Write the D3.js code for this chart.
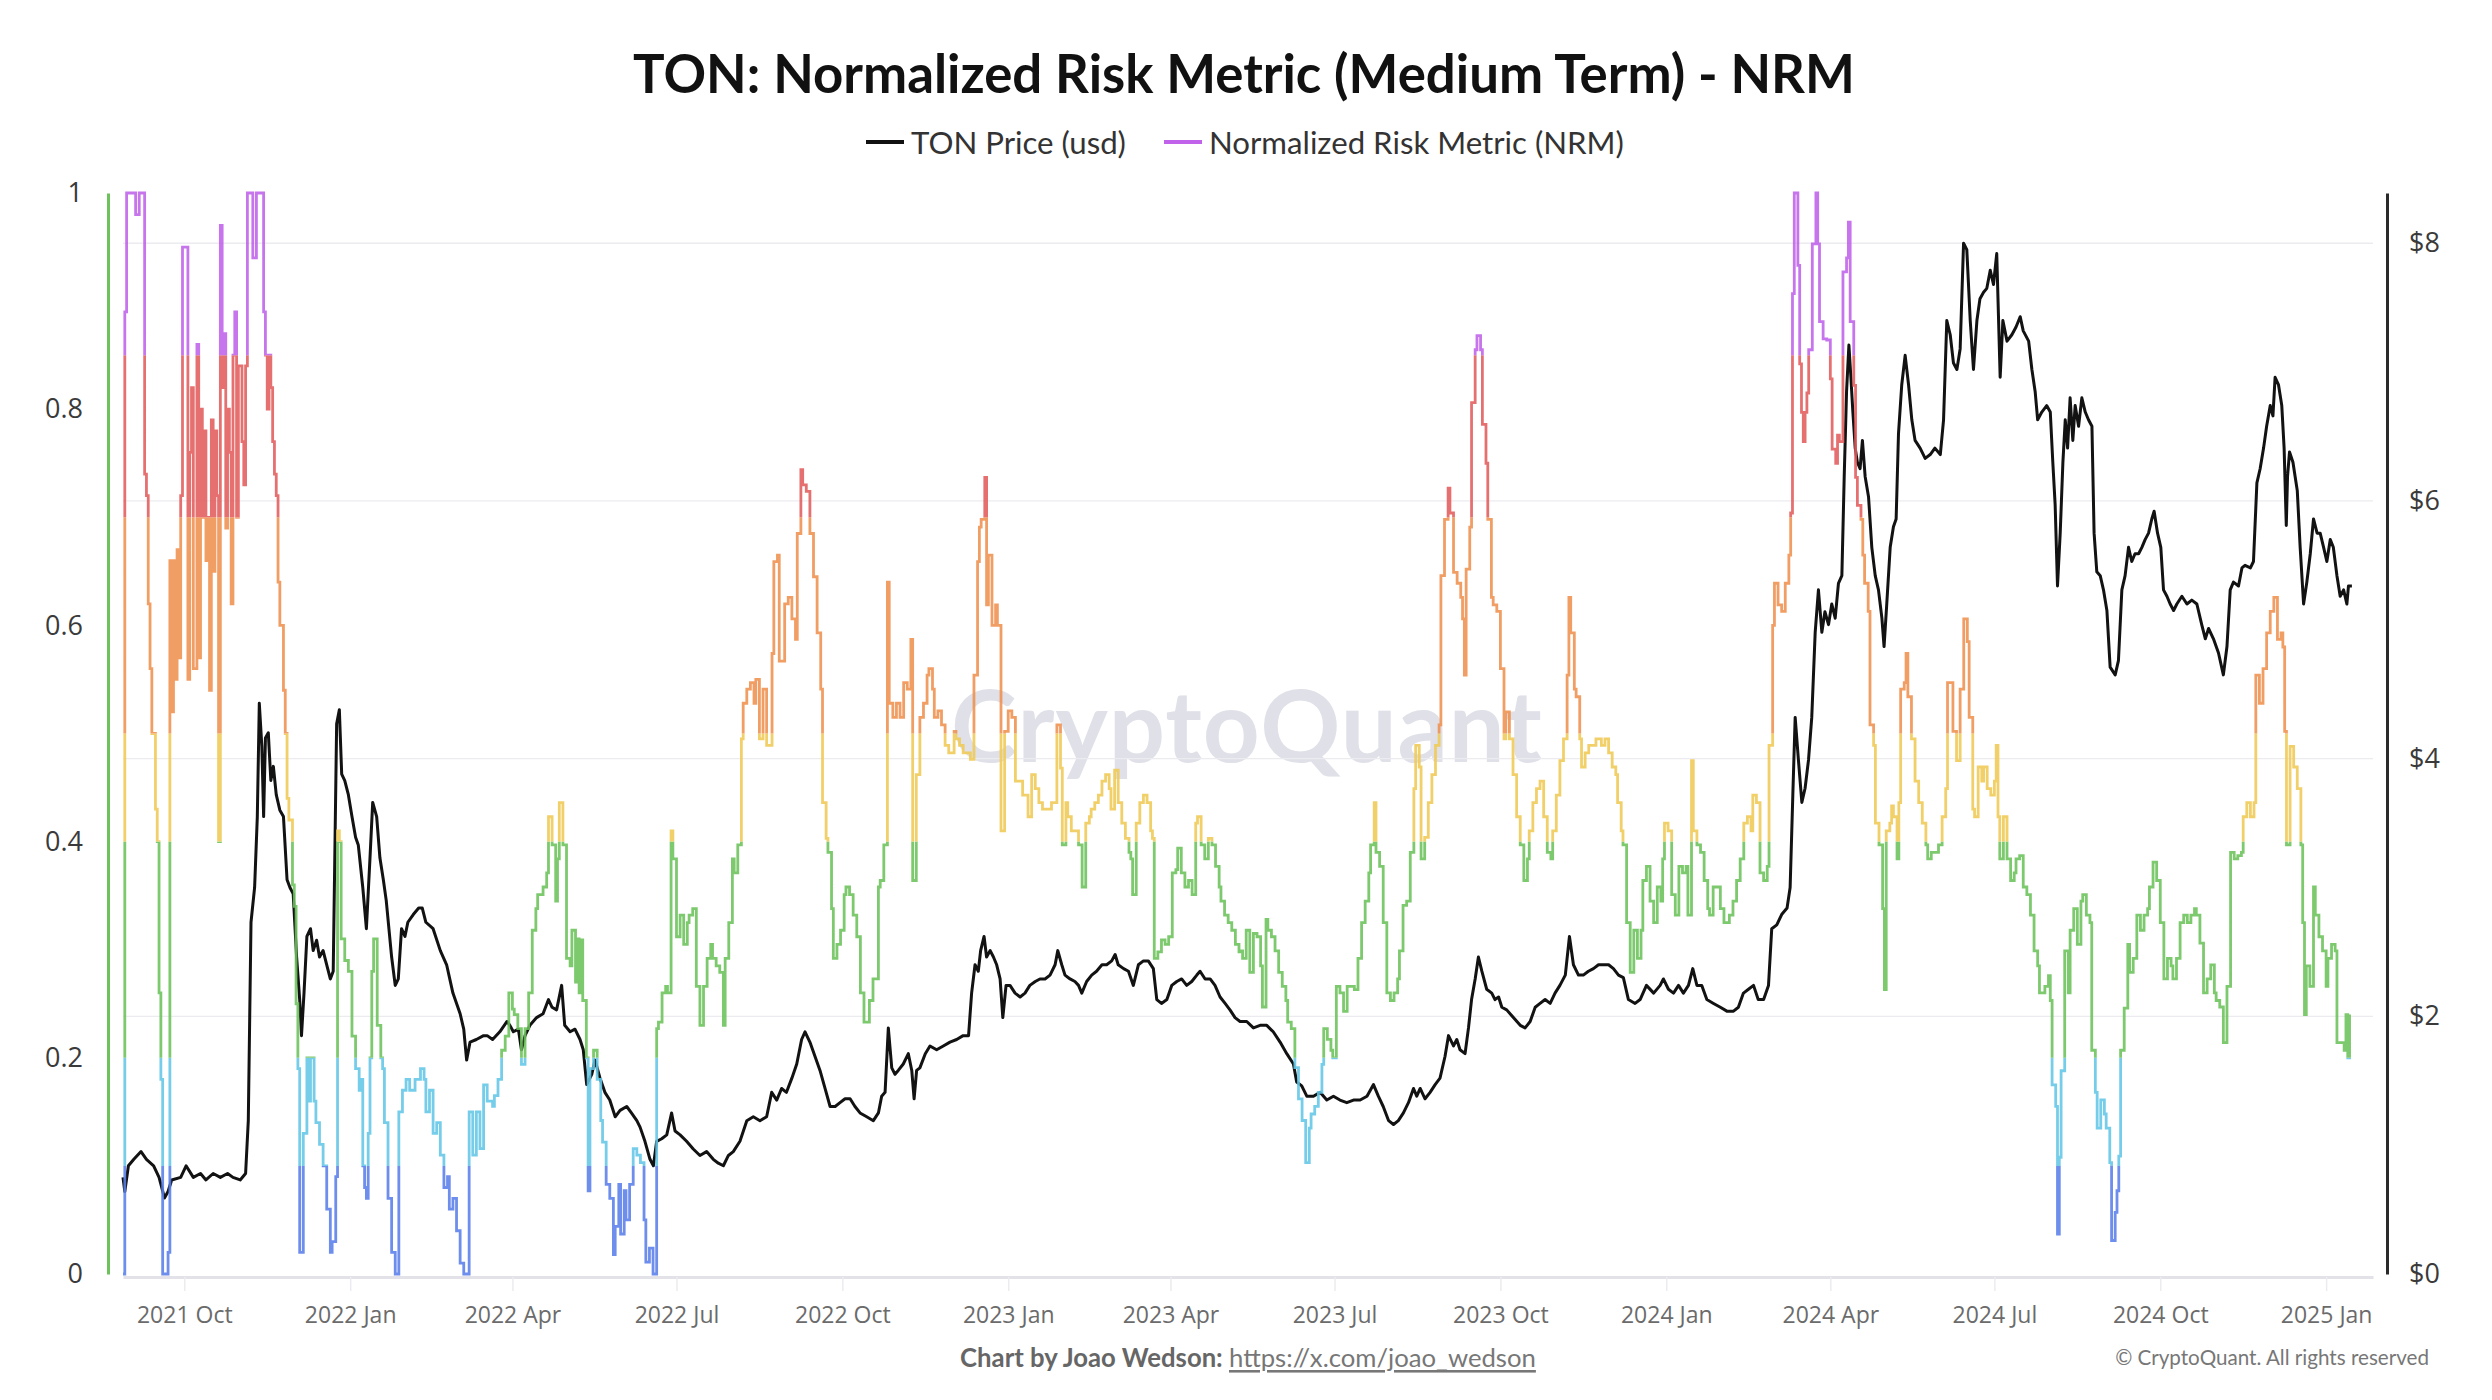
<!DOCTYPE html>
<html><head><meta charset="utf-8">
<script src="https://cdn.jsdelivr.net/npm/d3@7"></script>
<style>html,body{margin:0;padding:0;background:#fff;}svg{display:block;}</style>
</head><body>
<svg id="chart" width="2492" height="1400"></svg>
<script>
// ---------------- DATA ----------------
const baseDate = "2021-10-01";            // day 0 of the day offsets below
const chartTitle = "TON: Normalized Risk Metric (Medium Term) - NRM";
const seriesNames = ["TON Price (usd)", "Normalized Risk Metric (NRM)"];
const riskBands = [0, 0.1, 0.2, 0.4, 0.5, 0.7, 0.85, 1];
const riskColors = ["#5a7fea", "#64c7e7", "#6cc25b", "#f1ca55", "#f0914f", "#e35d5d", "#c062ea"];
const nrmTicks = [0, 0.2, 0.4, 0.6, 0.8, 1];
const priceTicks = [0, 2, 4, 6, 8];
const xDomainDays = [-34, 1214];
const priceMax = 8.39;

// NRM: [day offset from baseDate, value]
const nrmPoints = [
[-34,0.0],[-33,0.89],[-32,1.0],[-27,0.98],[-25,1.0],[-22,0.74],[-21,0.72],[-20,0.62],[-19,0.56],[-18,0.5],[-16,0.43],[-15,0.4],[-14,0.26],[-13,0.18],[-12,0.0],[-9,0.02],[-8,0.66],[-7,0.52],[-6,0.66],[-5,0.55],[-4,0.67],[-3,0.57],[-2,0.72],[-1,0.95],[2,0.55],[3,0.76],[4,0.82],[5,0.56],[7,0.86],[8,0.57],[9,0.8],[10,0.7],[11,0.78],[12,0.66],[13,0.7],[14,0.54],[15,0.79],[16,0.65],[17,0.78],[18,0.72],[19,0.4],[20,0.97],[21,0.82],[22,0.87],[23,0.69],[24,0.8],[25,0.76],[26,0.62],[27,0.85],[28,0.89],[29,0.7],[30,0.84],[32,0.77],[33,0.73],[34,0.84],[35,1.0],[38,0.94],[40,1.0],[44,0.89],[45,0.85],[46,0.8],[47,0.85],[48,0.82],[49,0.77],[50,0.74],[51,0.72],[52,0.64],[53,0.6],[55,0.54],[56,0.5],[57,0.44],[58,0.42],[60,0.36],[61,0.34],[62,0.25],[63,0.19],[64,0.02],[66,0.13],[68,0.2],[69,0.16],[70,0.2],[72,0.16],[73,0.14],[75,0.12],[77,0.1],[79,0.06],[81,0.02],[82,0.03],[84,0.09],[85,0.41],[86,0.4],[87,0.31],[89,0.29],[91,0.28],[93,0.22],[95,0.19],[97,0.17],[98,0.18],[99,0.1],[100,0.08],[101,0.07],[102,0.13],[103,0.2],[104,0.28],[105,0.31],[107,0.23],[109,0.2],[110,0.19],[111,0.14],[113,0.07],[115,0.02],[117,0.0],[119,0.15],[121,0.17],[123,0.18],[125,0.17],[128,0.18],[131,0.19],[133,0.18],[134,0.15],[136,0.17],[138,0.13],[140,0.14],[142,0.11],[144,0.08],[146,0.09],[147,0.06],[149,0.07],[151,0.04],[153,0.01],[155,0.0],[158,0.15],[160,0.11],[162,0.15],
[164,0.116],[166,0.175],[168,0.16],[171,0.155],[172,0.165],[174,0.18],[176,0.207],[178,0.22],[180,0.26],[182,0.245],[183,0.24],[185,0.227],[187,0.194],[189,0.227],[191,0.26],[193,0.318],[195,0.338],[196,0.351],[199,0.358],[201,0.371],[202,0.423],[204,0.397],[206,0.345],[207,0.384],[208,0.436],[210,0.397],[212,0.292],[214,0.285],[215,0.318],[217,0.27],[218,0.31],[219,0.26],[220,0.309],[221,0.253],[223,0.2],[224,0.077],[225,0.19],[227,0.207],[229,0.18],[231,0.142],[232,0.122],[234,0.083],[236,0.07],[238,0.018],[239,0.044],[241,0.083],[242,0.037],[244,0.077],[245,0.05],[247,0.083],[249,0.116],[251,0.11],[253,0.103],[255,0.05],[256,0.011],[258,0.024],[260,0.0],[262,0.227],[263,0.233],[265,0.26],[267,0.266],[268,0.26],[270,0.41],[271,0.384],[273,0.312],[275,0.332],[277,0.305],[279,0.325],[280,0.332],[282,0.338],[284,0.266],[286,0.23],[288,0.266],[290,0.292],[292,0.305],[293,0.292],[295,0.285],[297,0.279],[299,0.23],[300,0.292],[302,0.325],[304,0.384],[305,0.371],[307,0.397],[309,0.495],[310,0.528],[312,0.541],[314,0.547],[316,0.528],[317,0.55],[319,0.495],[321,0.541],[323,0.489],[325,0.489],[326,0.574],[327,0.659],[329,0.665],[330,0.567],[332,0.567],[333,0.62],[335,0.626],[337,0.606],[339,0.587],[340,0.685],[342,0.744],[343,0.73],[345,0.724],[347,0.685],[349,0.645],[351,0.593],[353,0.541],[354,0.436],[356,0.403],[357,0.39],[359,0.338],[360,0.292],[362,0.305],[364,0.318],[366,0.351],[367,0.358],[369,0.351],[371,0.332],[373,0.312],[375,0.26],[377,0.233],
[378,0.233],[380,0.253],[382,0.273],[384,0.273],[385,0.358],[386,0.364],[388,0.397],[390,0.64],[391,0.528],[393,0.515],[395,0.528],[397,0.515],[399,0.547],[401,0.541],[403,0.587],[404,0.364],[406,0.462],[408,0.515],[410,0.528],[412,0.554],[413,0.56],[415,0.541],[416,0.515],[418,0.521],[420,0.508],[422,0.489],[424,0.482],[427,0.502],[428,0.495],[430,0.489],[432,0.482],[434,0.482],[436,0.476],[438,0.554],[440,0.659],[441,0.691],[442,0.698],[444,0.737],[445,0.619],[446,0.665],[448,0.6],[450,0.619],[451,0.6],[453,0.41],[454,0.41],[455,0.502],[457,0.521],[459,0.515],[461,0.456],[463,0.456],[465,0.443],[466,0.443],[468,0.423],[470,0.462],[472,0.449],[474,0.436],[476,0.43],[479,0.43],[481,0.436],[483,0.436],[484,0.508],[486,0.468],[487,0.397],[489,0.436],[490,0.423],[492,0.41],[494,0.41],[496,0.397],[498,0.358],[500,0.417],[502,0.423],[503,0.43],[505,0.436],[507,0.443],[509,0.456],[511,0.462],[513,0.449],[514,0.43],[516,0.466],[518,0.436],[520,0.417],[522,0.403],[524,0.39],[525,0.384],[526,0.351],[528,0.417],[530,0.436],[532,0.443],[534,0.436],[536,0.41],[537,0.403],[538,0.292],[540,0.298],[542,0.309],[544,0.305],[546,0.312],[548,0.371],[550,0.374],[551,0.394],[553,0.371],[555,0.358],[557,0.364],[559,0.351],[561,0.417],[562,0.423],[564,0.397],[566,0.384],[568,0.403],[570,0.397],[572,0.377],[574,0.358],[575,0.345],[577,0.332],[579,0.325],[581,0.318],[583,0.305],[585,0.298],
[586,0.299],[587,0.292],[589,0.318],[591,0.279],[593,0.315],[595,0.312],[597,0.285],[598,0.247],[600,0.328],[601,0.318],[603,0.312],[605,0.299],[607,0.279],[609,0.266],[611,0.253],[612,0.233],[614,0.227],[616,0.191],[618,0.162],[620,0.142],[622,0.103],[624,0.135],[625,0.148],[627,0.155],[629,0.168],[631,0.194],[632,0.227],[634,0.217],[636,0.207],[637,0.2],[639,0.266],[641,0.26],[643,0.243],[645,0.266],[647,0.266],[649,0.263],[651,0.292],[653,0.325],[655,0.345],[657,0.371],[658,0.397],[660,0.436],[661,0.39],[663,0.377],[665,0.325],[667,0.26],[669,0.253],[671,0.26],[673,0.273],[674,0.299],[676,0.341],[678,0.345],[680,0.39],[682,0.449],[683,0.489],[685,0.469],[686,0.384],[688,0.404],[690,0.436],[692,0.462],[694,0.489],[696,0.508],[697,0.646],[699,0.698],[701,0.727],[702,0.704],[704,0.649],[706,0.639],[708,0.626],[709,0.606],[710,0.554],[711,0.652],[713,0.691],[714,0.806],[716,0.855],[717,0.868],[719,0.855],[720,0.786],[722,0.75],[723,0.698],[725,0.626],[726,0.619],[728,0.613],[730,0.56],[732,0.495],[733,0.52],[735,0.495],[737,0.462],[739,0.423],[741,0.397],[743,0.364],[745,0.384],[746,0.41],[748,0.436],[750,0.449],[752,0.456],[754,0.423],[756,0.39],[758,0.384],[759,0.41],[761,0.443],[763,0.475],[765,0.495],[767,0.554],[768,0.626],[769,0.593],[771,0.541],[772,0.534],[774,0.495],[775,0.469],[777,0.482],[779,0.489],[781,0.489],[783,0.495],[786,0.489],[788,0.495],[790,0.482],[792,0.469],[794,0.462],[795,0.436],[797,0.41],
[798,0.397],[800,0.325],[802,0.279],[804,0.318],[806,0.292],[808,0.318],[809,0.364],[811,0.377],[813,0.345],[815,0.325],[817,0.358],[819,0.345],[820,0.384],[821,0.417],[823,0.41],[825,0.351],[827,0.332],[829,0.377],[831,0.371],[833,0.377],[834,0.332],[836,0.475],[837,0.41],[839,0.397],[841,0.39],[843,0.364],[845,0.338],[846,0.332],[848,0.358],[850,0.358],[852,0.338],[854,0.325],[856,0.325],[857,0.332],[859,0.345],[861,0.364],[863,0.384],[865,0.417],[867,0.423],[869,0.41],[870,0.443],[872,0.436],[874,0.371],[876,0.364],[878,0.377],[879,0.489],[881,0.6],[882,0.639],[884,0.619],[886,0.613],[888,0.639],[890,0.665],[891,0.704],[892,0.907],[893,1.0],[895,0.933],[896,0.842],[897,0.797],[898,0.77],[899,0.797],[900,0.815],[901,0.855],[903,0.953],[905,1.0],[906,0.953],[907,0.881],[909,0.865],[911,0.864],[913,0.828],[914,0.763],[916,0.75],[917,0.776],[918,0.77],[920,0.927],[922,0.94],[923,0.973],[924,0.881],[926,0.822],[927,0.737],[928,0.711],[930,0.698],[931,0.665],[932,0.639],[934,0.613],[935,0.508],[937,0.489],[938,0.417],[940,0.397],[942,0.338],[943,0.263],[944,0.41],[946,0.417],[947,0.433],[948,0.423],[950,0.384],[951,0.436],[952,0.541],[954,0.547],[955,0.574],[956,0.534],[958,0.495],[960,0.456],[962,0.436],[964,0.417],[966,0.397],[967,0.384],[969,0.39],[971,0.39],[973,0.397],[975,0.423],[977,0.449],[978,0.547],[980,0.547],[981,0.502],[983,0.475],[985,0.541],[987,0.606],[989,0.585],[990,0.515],[992,0.43],[993,0.423],[995,0.469],[997,0.456],[998,0.469],[1000,0.449],[1002,0.443],[1004,0.456],[1005,0.489],[1006,0.423],
[1007,0.384],[1009,0.423],[1011,0.384],[1013,0.364],[1015,0.371],[1016,0.384],[1018,0.387],[1020,0.358],[1022,0.351],[1024,0.332],[1026,0.299],[1028,0.285],[1029,0.26],[1032,0.266],[1034,0.276],[1035,0.253],[1036,0.175],[1038,0.155],[1039,0.037],[1040,0.108],[1041,0.188],[1043,0.299],[1045,0.26],[1046,0.318],[1048,0.338],[1050,0.305],[1052,0.345],[1053,0.351],[1055,0.332],[1057,0.325],[1058,0.207],[1060,0.168],[1061,0.135],[1063,0.161],[1065,0.148],[1066,0.135],[1068,0.103],[1069,0.031],[1071,0.057],[1072,0.077],[1073,0.109],[1074,0.207],[1076,0.246],[1078,0.305],[1079,0.279],[1081,0.292],[1083,0.332],[1085,0.318],[1087,0.332],[1089,0.338],[1090,0.358],[1092,0.381],[1094,0.364],[1096,0.325],[1098,0.273],[1100,0.292],[1102,0.285],[1103,0.273],[1105,0.292],[1107,0.325],[1109,0.332],[1111,0.325],[1113,0.332],[1115,0.338],[1116,0.332],[1118,0.306],[1120,0.26],[1122,0.273],[1124,0.286],[1126,0.26],[1127,0.253],[1129,0.247],[1131,0.214],[1133,0.266],[1135,0.39],[1137,0.384],[1139,0.387],[1141,0.39],[1142,0.423],[1144,0.436],[1146,0.423],[1148,0.436],[1149,0.554],[1151,0.528],[1153,0.56],[1155,0.593],[1157,0.613],[1159,0.626],[1161,0.587],[1163,0.593],[1164,0.58],[1165,0.502],[1166,0.397],[1168,0.488],[1170,0.469],[1172,0.449],[1174,0.397],[1175,0.325],[1176,0.24],[1177,0.285],[1179,0.266],[1181,0.358],[1182,0.332],[1184,0.312],[1186,0.299],[1188,0.266],[1189,0.292],[1191,0.305],[1193,0.299],[1194,0.214],[1196,0.214],[1198,0.207],[1199,0.24],[1200,0.2],[1201,0.24]
];

// TON price (USD): [day offset from baseDate, price]
const pricePoints = [
[-34,0.75],[-33,0.64],[-31,0.84],[-28,0.89],[-24,0.95],[-21,0.89],[-17,0.84],[-14,0.75],[-11,0.59],[-9,0.64],[-7,0.73],[-2,0.75],[1,0.84],[5,0.75],[9,0.78],[12,0.73],[16,0.78],[20,0.75],[24,0.78],[27,0.75],[31,0.73],[34,0.78],[35.5,1.19],[37,2.73],[39,3.0],[40.5,3.55],[41.6,4.43],[43,4.1],[44,3.55],[45,4.16],[46.6,4.2],[48,3.83],[49.4,3.94],[51,3.72],[53,3.6],[55,3.55],[57,3.06],[58.6,3.0],[60.4,2.95],[62.3,2.46],[64,2.13],[65,1.85],[66.4,2.18],[68,2.62],[70,2.68],[71.5,2.51],[73.4,2.59],[75,2.46],[77,2.51],[79,2.4],[81,2.29],[82.6,2.35],[84.5,4.27],[86,4.38],[87.3,3.88],[89,3.83],[91,3.72],[93,3.55],[95,3.39],[96.5,3.33],[99,3.0],[101,2.68],[103,3.23],[104.5,3.66],[106.7,3.55],[108.5,3.23],[110.4,3.06],[112,2.9],[115,2.46],[117,2.24],[118.7,2.29],[120.5,2.68],[122.4,2.62],[124,2.73],[127,2.79],[130,2.84],[132,2.84],[134,2.73],[138,2.68],[142,2.51],[145.5,2.4],[149,2.18],[153,2.02],[155,1.9],[156.6,1.66],[158.5,1.8],[162,1.82],[166,1.85],[168,1.85],[171,1.82],[175,1.88],[179,1.96],[180.6,1.93],[182.5,1.88],[185.3,1.9],[187,1.74],[189,1.85],[191.7,1.93],[195.4,1.99],[199,2.02],[202,2.13],[204,2.07],[206.5,2.05],[209.3,2.24],[211,1.93],[214,1.88],[216.7,1.9],[219.5,1.82],[221.3,1.74],[223.2,1.47],[226,1.55],[227.8,1.66],[230.6,1.52],[233.3,1.41],[236,1.35],[239,1.22],[241.7,1.27],[245.4,1.3],[248,1.25],[251,1.19],[252.8,1.14],[255.5,1.03],[258.3,0.89],[260.2,0.84],[262,1.03],[264.8,1.05],[267.6,1.08],[270.3,1.25],[272.2,1.11],[275,1.08],[278.6,1.03],[282.3,0.97],[286,0.92],[289.7,0.95],[293.4,0.89],[296.2,0.86],[299,0.84],[301.8,0.92],[304.5,0.95],[308.2,1.03],[312,1.19],[315.6,1.22],[319.3,1.19],[323,1.22],[325.8,1.41],[328.6,1.35],[331.3,1.44],[334,1.41],[337,1.52],[339.7,1.63],[342.4,1.82],[344.3,1.88],[347,1.8],[349.8,1.69],[352.6,1.58],[355.4,1.44],[358.2,1.3],[361,1.3],[363.7,1.33],[366.5,1.36],[369.3,1.36],[372,1.3],[374.8,1.25],[378.5,1.22],[382.2,1.19],[385,1.25],[386.8,1.38],[388.7,1.41],[390.5,1.91],[392.4,1.6],[394.2,1.55],[396,1.58],[398.8,1.63],[401.6,1.71],[403.5,1.58],[404.8,1.36],[406.2,1.58],[408,1.6],[411,1.71],[413.6,1.77],[417.3,1.74],[421,1.77],[424.7,1.8],[428.4,1.82],[432,1.85],[435,1.85],[436.7,2.18],[438.6,2.4],[440.4,2.35],[441.7,2.51],[443.6,2.62],[445,2.46],[447,2.51],[448.8,2.46],[450.6,2.4],[452.5,2.29],[454,1.99],[455.8,2.24],[458,2.24],[460.8,2.18],[463.6,2.15],[466.3,2.18],[469,2.24],[472,2.27],[474.6,2.29],[477.4,2.29],[480.2,2.32],[483,2.4],[484.5,2.51],[486.7,2.4],[488.5,2.32],[491.3,2.29],[494,2.27],[496,2.24],[497.8,2.18],[500.5,2.27],[503.3,2.32],[506,2.35],[509,2.4],[511.6,2.4],[514.4,2.43],[516.3,2.48],[518,2.4],[521,2.37],[523.7,2.35],[526.4,2.24],[529.2,2.4],[532,2.43],[534.7,2.43],[537.5,2.37],[539.4,2.13],[542,2.1],[545,2.13],[547.7,2.24],[550.5,2.27],[553.2,2.29],[556,2.24],[558.8,2.27],[561.6,2.32],[563.4,2.35],[566.2,2.29],[569,2.29],[571.7,2.24],[574.5,2.15],[577.3,2.1],[580,2.05],[582.8,1.99],[585.6,1.96],[589.3,1.96],[593,1.91],[596.7,1.93],[600.4,1.93],[604,1.88],[607.8,1.8],[611.5,1.71],[615.2,1.63],[617,1.49],[619.8,1.46],[622.6,1.38],[626.3,1.38],[630,1.41],[633.7,1.35],[637.4,1.38],[641,1.35],[644.8,1.33],[648.5,1.35],[652.2,1.35],[656,1.38],[659.6,1.47],[662.3,1.38],[665,1.3],[668,1.19],[670.7,1.16],[673.4,1.19],[676.2,1.25],[679,1.33],[681.8,1.44],[683.6,1.38],[685.5,1.44],[688.2,1.36],[691,1.41],[693.8,1.47],[696.5,1.52],[699.3,1.69],[701.2,1.85],[704,1.77],[705.8,1.82],[707.6,1.74],[710.4,1.71],[712.3,1.91],[714,2.13],[716,2.29],[717.8,2.46],[719.7,2.35],[722.4,2.21],[725.2,2.18],[727,2.13],[729,2.15],[730.8,2.07],[733.5,2.05],[737.2,1.99],[741,1.93],[743.7,1.91],[746.5,1.96],[749.3,2.07],[752,2.1],[754.8,2.13],[757.6,2.1],[760.3,2.18],[763,2.24],[766,2.32],[768.3,2.62],[770.5,2.4],[773.3,2.32],[776,2.32],[778.8,2.35],[781.6,2.37],[784.4,2.4],[787,2.4],[790,2.4],[792.7,2.37],[795.5,2.32],[798.2,2.3],[801,2.13],[804.7,2.1],[807.5,2.13],[811,2.24],[815,2.18],[818.6,2.24],[820.4,2.29],[823.2,2.21],[826,2.18],[828.8,2.24],[831.5,2.18],[834.3,2.24],[836.7,2.37],[839,2.24],[841.7,2.24],[844.5,2.13],[848.2,2.1],[852,2.07],[855.6,2.04],[859.3,2.04],[862,2.07],[864.8,2.18],[867.6,2.21],[870.4,2.24],[873,2.13],[876,2.13],[878.7,2.24],[880.5,2.68],[883.3,2.71],[886,2.79],[889,2.84],[890.7,3.0],[892.2,3.72],[893.5,4.32],[895.3,3.99],[897.2,3.66],[899,3.77],[900.9,3.99],[902.7,4.32],[904.6,4.98],[906.4,5.31],[908.3,4.98],[910,5.14],[912,5.04],[913.8,5.2],[915.7,5.09],[917.5,5.36],[919.4,5.42],[920.7,6.19],[922,6.85],[923.3,7.21],[924.4,6.96],[925.5,6.69],[926.8,6.41],[928,6.3],[929.5,6.25],[930.8,6.47],[932.3,6.19],[934.2,6.03],[936,5.64],[937.9,5.42],[939.7,5.31],[941.6,5.09],[942.8,4.87],[944.3,5.2],[946.2,5.64],[948,5.8],[949.5,5.86],[950.8,6.52],[952.6,6.9],[954.5,7.13],[956.4,6.9],[958.2,6.63],[960,6.47],[962.8,6.41],[965.6,6.33],[968.4,6.36],[971,6.41],[974,6.36],[975.8,6.63],[977.6,7.4],[979.5,7.29],[981.3,7.07],[983.2,7.02],[985,7.18],[986.9,8.0],[988.7,7.95],[990.6,7.4],[992.4,7.02],[994.3,7.4],[996,7.57],[998,7.62],[999.8,7.65],[1001.7,7.79],[1003.5,7.68],[1005.3,7.92],[1007.2,6.96],[1008.7,7.4],[1011,7.24],[1013.7,7.29],[1016,7.35],[1018.3,7.43],[1020,7.32],[1023,7.24],[1024.8,7.02],[1026.6,6.85],[1028,6.63],[1030.3,6.69],[1033,6.74],[1035,6.69],[1036.4,6.3],[1037.7,5.97],[1039,5.34],[1040.5,5.75],[1042,6.3],[1043.3,6.63],[1044.6,6.41],[1046,6.8],[1047.5,6.47],[1048.8,6.74],[1050.7,6.58],[1052.5,6.8],[1054.4,6.69],[1056.2,6.63],[1058.1,6.58],[1059.3,5.75],[1060.8,5.45],[1062.7,5.42],[1064.5,5.31],[1066.4,5.15],[1068.2,4.71],[1071,4.65],[1072.8,4.76],[1074.7,5.31],[1076.5,5.42],[1078.4,5.64],[1080.2,5.53],[1082,5.59],[1084,5.59],[1085.8,5.64],[1087.6,5.7],[1089.5,5.75],[1091.3,5.86],[1092.6,5.92],[1094.5,5.75],[1096.3,5.64],[1097.8,5.31],[1099.7,5.26],[1101.5,5.2],[1103.4,5.15],[1105.2,5.2],[1108,5.26],[1110.8,5.2],[1113.5,5.23],[1116.3,5.2],[1119,5.04],[1121,4.93],[1122.8,5.01],[1125.5,4.93],[1128.3,4.82],[1131,4.65],[1133,4.87],[1134.8,5.31],[1136.6,5.37],[1139.4,5.34],[1141.3,5.48],[1143,5.5],[1146,5.48],[1147.7,5.53],[1149.6,6.14],[1151.4,6.25],[1153.3,6.41],[1155,6.58],[1157,6.74],[1158.5,6.66],[1159.7,6.96],[1161.6,6.9],[1163.4,6.74],[1164.7,6.41],[1165.9,5.81],[1166.6,6.19],[1167.7,6.38],[1169.6,6.3],[1170.8,6.19],[1172,6.08],[1173.6,5.64],[1175.5,5.2],[1177.3,5.37],[1179.2,5.59],[1181,5.86],[1183,5.75],[1184.7,5.75],[1186.6,5.64],[1188.4,5.53],[1190.3,5.7],[1192,5.64],[1194,5.42],[1195.8,5.26],[1197.7,5.31],[1199.5,5.2],[1200.4,5.34],[1202.3,5.34]
];

// ---------------- LAYOUT ----------------
const W = 2492, H = 1400;
const plot = {left: 123, right: 2373, top: 193, bottom: 1274};
const base = Date.parse(baseDate + "T00:00:00Z");
const toDate = d => new Date(base + d * 864e5);

const svg = d3.select("#chart");
const x = d3.scaleUtc().domain(xDomainDays.map(toDate)).range([plot.left, plot.right]);
const yL = d3.scaleLinear().domain([0, 1]).range([plot.bottom, plot.top]);
const yR = d3.scaleLinear().domain([0, priceMax]).range([plot.bottom, plot.top]);

function fit(sel, w) {
  const len = sel.node().getComputedTextLength();
  const fs = parseFloat(sel.attr("font-size"));
  sel.attr("font-size", (fs * w / len).toFixed(2));
}

// watermark
const wm = svg.append("text").attr("x", 1247).attr("y", 762)
  .attr("text-anchor", "middle")
  .attr("font-family", "Lato, 'Open Sans', sans-serif").attr("font-weight", 700)
  .attr("font-size", 100).attr("fill", "#dfe0e8")
  .attr("letter-spacing", 1)
  .text("CryptoQuant");
fit(wm, 592);

// gridlines (from right axis)
svg.append("g").selectAll("line").data(priceTicks.filter(t => t > 0)).join("line")
  .attr("x1", plot.left).attr("x2", plot.right)
  .attr("y1", d => yR(d)).attr("y2", d => yR(d))
  .attr("stroke", "#ececf0").attr("stroke-width", 1.3);

// x axis
const xAxis = d3.axisBottom(x).ticks(d3.utcMonth.every(3)).tickFormat(d3.utcFormat("%Y %b")).tickSize(14).tickSizeOuter(0);
const gx = svg.append("g").attr("transform", `translate(0,${plot.bottom + 3})`).call(xAxis);
gx.select(".domain").attr("stroke", "#e2e2e8").attr("stroke-width", 3);
gx.selectAll(".tick line").attr("stroke", "#ececf0").attr("stroke-width", 1.5);
gx.selectAll(".tick text").attr("font-family", "'Open Sans', sans-serif").attr("font-size", 23)
  .attr("fill", "#6b6b6b").attr("dy", "1.25em");

// left axis
const gl = svg.append("g").attr("transform", `translate(${plot.left - 15},0)`)
  .call(d3.axisLeft(yL).tickValues(nrmTicks).tickFormat(d3.format("~g")).tickSize(0).tickPadding(25));
gl.select(".domain").attr("stroke", riskColors[2]).attr("stroke-width", 3);
gl.selectAll(".tick text").attr("font-family", "'Open Sans', sans-serif").attr("font-size", 27).attr("fill", "#3a3a3a");

// right axis
const gr = svg.append("g").attr("transform", `translate(${plot.right + 14},0)`)
  .call(d3.axisRight(yR).tickValues(priceTicks).tickFormat(d => "$" + d).tickSize(0).tickPadding(22));
gr.select(".domain").attr("stroke", "#2a2a2a").attr("stroke-width", 3);
gr.selectAll(".tick text").attr("font-family", "'Open Sans', sans-serif").attr("font-size", 27).attr("fill", "#3a3a3a");

// price line
svg.append("path").datum(pricePoints)
  .attr("fill", "none").attr("stroke", "#121212").attr("stroke-width", 3).attr("stroke-linejoin", "round")
  .attr("d", d3.line().x(d => x(toDate(d[0]))).y(d => yR(d[1])).curve(d3.curveLinear));

// NRM zones via clip paths
const defs = svg.append("defs");
const zones = riskColors.map((c, i) => ({lo: riskBands[i], hi: riskBands[i + 1], color: c, i}));
zones.forEach(z => {
  const top = z.hi >= 1 ? yL(z.hi) - 20 : yL(z.hi);
  const bot = z.lo <= 0 ? yL(z.lo) + 20 : yL(z.lo);
  defs.append("clipPath").attr("id", "zone" + z.i).append("rect")
    .attr("x", 0).attr("width", W).attr("y", top).attr("height", bot - top);
});
const nrmLine = d3.line().x(d => x(toDate(d[0]))).y(d => yL(d[1])).curve(d3.curveStepAfter);
const nrmD = nrmLine(nrmPoints);
svg.append("g").attr("opacity", 0.88).selectAll("path").data(zones).join("path")
  .attr("clip-path", z => `url(#zone${z.i})`)
  .attr("d", nrmD).attr("fill", "none").attr("stroke", z => z.color).attr("stroke-width", 2.8);

// title
const title = svg.append("text").attr("x", 1244).attr("y", 72)
  .attr("text-anchor", "middle").attr("dominant-baseline", "central")
  .attr("font-family", "Lato, 'Open Sans', sans-serif").attr("font-weight", 700)
  .attr("font-size", 48).attr("fill", "#111").text(chartTitle);
fit(title, 1222);

// legend
const legendItems = [
  {name: seriesNames[0], color: "#111", x0: 866, tw: 215},
  {name: seriesNames[1], color: riskColors[6], x0: 1164, tw: 415}
];
const lg = svg.append("g");
legendItems.forEach(it => {
  lg.append("line").attr("x1", it.x0).attr("x2", it.x0 + 38).attr("y1", 142).attr("y2", 142)
    .attr("stroke", it.color).attr("stroke-width", 4);
  const t = lg.append("text").attr("x", it.x0 + 45).attr("y", 142).attr("dominant-baseline", "central")
    .attr("font-family", "Lato, 'Open Sans', sans-serif").attr("font-size", 30).attr("fill", "#333").text(it.name);
  fit(t, it.tw);
});

// footer
const ft = svg.append("text").attr("x", 1248).attr("y", 1357).attr("text-anchor", "middle")
  .attr("dominant-baseline", "central").attr("font-family", "Lato, 'Open Sans', sans-serif")
  .attr("font-size", 24).attr("fill", "#666");
ft.append("tspan").attr("font-weight", 700).text("Chart by Joao Wedson: ");
ft.append("tspan").attr("text-decoration", "underline").attr("fill", "#777").text("https://x.com/joao_wedson");
fit(ft, 576);

const cr = svg.append("text").attr("x", 2429).attr("y", 1357).attr("text-anchor", "end")
  .attr("dominant-baseline", "central").attr("font-family", "Lato, 'Open Sans', sans-serif")
  .attr("font-size", 20).attr("fill", "#777").text("© CryptoQuant. All rights reserved");
fit(cr, 314);
</script>
</body></html>
